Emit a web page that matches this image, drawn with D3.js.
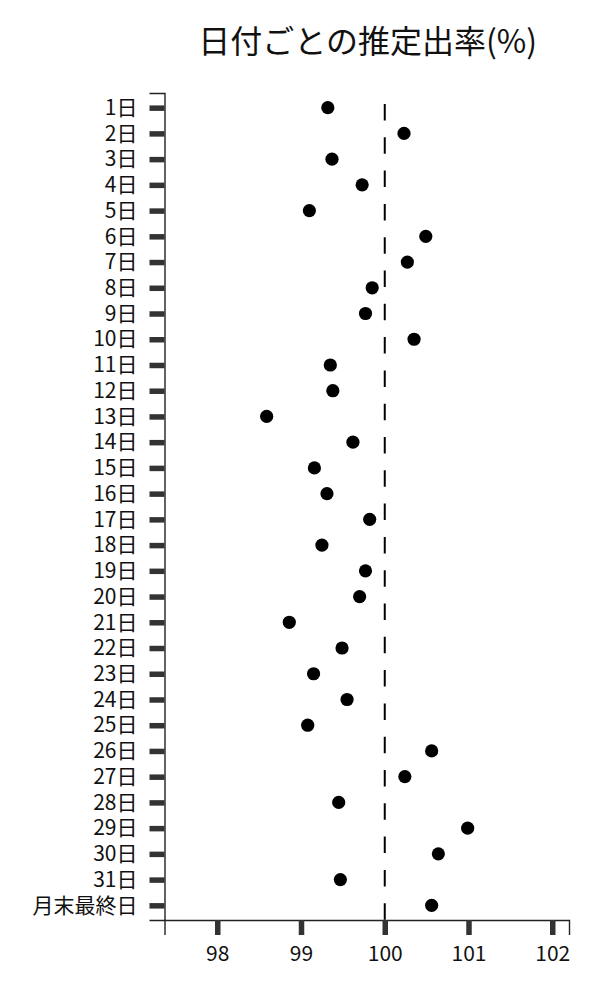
<!DOCTYPE html>
<html>
<head>
<meta charset="utf-8">
<script src="https://cdn.jsdelivr.net/npm/d3@7"></script>
<style>
  body { margin: 0; background: #fff; }
  svg { display: block; font-family: "Noto Sans CJK JP", "Noto Sans", sans-serif; }
</style>
</head>
<body>
<svg width="600" height="1000"></svg>
<script>
const days = [
  '1日', '2日', '3日', '4日', '5日', '6日', '7日', '8日', '9日', '10日',
  '11日', '12日', '13日', '14日', '15日', '16日', '17日', '18日', '19日', '20日',
  '21日', '22日', '23日', '24日', '25日', '26日', '27日', '28日', '29日', '30日',
  '31日', '月末最終日'
];
const rates = [
  99.32, 100.23, 99.37, 99.73, 99.10, 100.49, 100.27, 99.85, 99.77, 100.35,
  99.35, 99.38, 98.59, 99.62, 99.16, 99.31, 99.82, 99.25, 99.77, 99.70,
  98.86, 99.49, 99.15, 99.55, 99.08, 100.56, 100.24, 99.45, 100.99, 100.64,
  99.47, 100.56
];
const xTicks = [98, 99, 100, 101, 102];
const refValue = 100;
const title = '日付ごとの推定出率(%)';

const svg = d3.select('svg');
const margin = { top: 93, bottom: 80, left: 164.5, right: 31 };
const width = +svg.attr('width');
const height = +svg.attr('height');
const innerWidth = width - margin.left - margin.right;
const innerHeight = height - margin.top - margin.bottom;

const data = days.map((d, i) => ({ day: d, rate: rates[i] }));

const root = svg.append('g')
  .attr('transform', `translate(${margin.left}, ${margin.top})`);

const xScale = d3.scaleLinear()
  .domain([97.37, 102.2])
  .range([0, innerWidth]);

const yScale = d3.scalePoint()
  .domain(days)
  .range([0, innerHeight])
  .padding(0.57);

root.append('text')
  .attr('x', innerWidth / 2 + 1)
  .attr('y', -40)
  .attr('text-anchor', 'middle')
  .attr('font-size', 32)
  .attr('fill', '#111')
  .text(title);

const xAxis = d3.axisBottom(xScale)
  .tickValues(xTicks)
  .tickFormat(d3.format('d'))
  .tickSizeOuter(0)
  .tickSize(15)
  .tickPadding(11);

const yAxis = d3.axisLeft(yScale)
  .tickSizeOuter(0)
  .tickSize(15)
  .tickPadding(12);

const gx = root.append('g')
  .attr('transform', `translate(0, ${innerHeight})`)
  .call(xAxis);
const gy = root.append('g').call(yAxis);

[gx, gy].forEach(g => {
  g.select('.domain').attr('stroke', '#222').attr('stroke-width', 1.4);
  g.selectAll('.tick line').attr('stroke', '#333').attr('stroke-width', 5.5);
  g.selectAll('.tick text')
    .attr('font-size', 21)
    .attr('fill', '#111')
    .attr('font-family', '"Noto Sans CJK JP", "Noto Sans", sans-serif');
});

root.append('line')
  .attr('x1', xScale(refValue))
  .attr('x2', xScale(refValue))
  .attr('y1', 11)
  .attr('y2', innerHeight)
  .attr('stroke', '#000')
  .attr('stroke-width', 2)
  .attr('stroke-dasharray', '16.5 16.8');

root.selectAll('circle')
  .data(data)
  .enter().append('circle')
  .attr('cx', d => xScale(d.rate))
  .attr('cy', d => yScale(d.day))
  .attr('r', 6.6)
  .attr('fill', '#000');
</script>
</body>
</html>
